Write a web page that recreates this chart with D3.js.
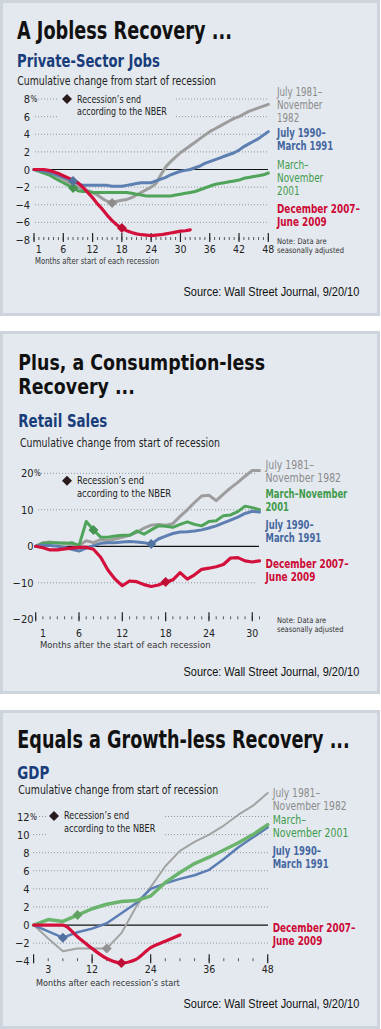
<!DOCTYPE html>
<html><head><meta charset="utf-8">
<script src="https://cdn.jsdelivr.net/npm/d3@7"></script>
<style>
body{margin:0;background:#fff;}
svg{display:block;}
</style></head>
<body><svg id="chart" width="381" height="1029"></svg>
<script>
// ================= DATA =================
// Panel 1: Private-sector jobs, cumulative % change, by month after recession start
const jobsMonths = [0,1,2,3,4,5,6,7,8,9,10,11,12,13,14,15,16,17,18,19,20,21,22,23,24,25,26,27,28,29,30,31,32,33,34,35,36,37,38,39,40,41,42,43,44,45,46,47,48];
const jobs1981 = [0,0,-0.1,-0.3,-0.5,-0.8,-1.1,-1.4,-1.7,-2.0,-2.2,-2.4,-2.6,-2.9,-3.3,-3.6,-3.8,-3.6,-3.5,-3.4,-3.2,-2.9,-2.6,-2.3,-2.0,-1.6,-0.6,0.3,0.9,1.4,1.9,2.3,2.7,3.1,3.5,3.9,4.3,4.6,4.9,5.2,5.5,5.8,6.0,6.3,6.6,6.8,7.0,7.2,7.4];
const jobs1990 = [0,-0.1,-0.2,-0.3,-0.5,-0.7,-0.9,-1.1,-1.3,-1.6,-1.8,-1.8,-1.8,-1.8,-1.8,-1.8,-1.9,-1.9,-1.9,-1.8,-1.7,-1.6,-1.5,-1.5,-1.5,-1.3,-1.1,-0.9,-0.6,-0.4,-0.2,-0.1,0.0,0.2,0.4,0.7,0.9,1.1,1.3,1.5,1.7,1.9,2.2,2.6,2.9,3.2,3.5,3.9,4.3];
const jobs2001 = [0,-0.2,-0.4,-0.6,-0.9,-1.2,-1.5,-1.8,-2.1,-2.4,-2.5,-2.5,-2.6,-2.6,-2.6,-2.6,-2.6,-2.6,-2.6,-2.6,-2.7,-2.8,-2.9,-3.0,-3.0,-3.0,-3.0,-3.0,-3.0,-2.9,-2.8,-2.7,-2.6,-2.5,-2.3,-2.1,-1.9,-1.7,-1.6,-1.5,-1.4,-1.3,-1.2,-1.0,-0.9,-0.8,-0.7,-0.6,-0.4];
const jobs2007 = [0,0,0,-0.1,-0.25,-0.45,-0.7,-0.95,-1.2,-1.5,-2.0,-2.6,-3.2,-3.9,-4.5,-5.2,-5.8,-6.3,-6.65,-6.95,-7.15,-7.3,-7.4,-7.45,-7.5,-7.45,-7.4,-7.3,-7.2,-7.1,-7.0,-6.95,-6.85];
const jobsRecessionEnd = [16, 8, 8, 18];          // months, order: 1981, 1990, 2001, 2007
const jobsYTicks = [-8,-6,-4,-2,0,2,4,6,8];
const jobsXTicks = [1,6,12,18,24,30,36,42,48];

// Panel 2: Retail sales
const retailMonths = [0,1,2,3,4,5,6,7,8,9,10,11,12,13,14,15,16,17,18,19,20,21,22,23,24,25,26,27,28,29,30,31];
const retail1981 = [0,1.0,1.2,0.8,1.0,0.5,0.2,1.5,1.0,1.8,1.5,2.0,2.5,3.0,3.8,5.0,5.8,6.0,5.8,6.2,8.2,10.0,12.0,13.8,14.0,12.5,14.3,16.0,17.5,19.2,20.8,20.8];
const retail1990 = [0,0.3,0.2,0.0,-0.3,-0.8,-1.3,-0.5,0.2,0.8,1.0,1.0,1.2,1.3,1.2,1.0,0.6,2.0,2.8,3.5,3.9,4.0,4.2,4.5,5.0,5.6,6.4,7.2,8.0,9.0,9.6,9.4];
const retail2001 = [0,0.8,1.0,1.0,0.8,1.0,0.2,6.8,4.5,2.5,2.5,2.8,3.0,3.0,4.2,3.3,4.5,5.6,5.5,5.2,6.0,6.7,6.0,5.6,6.8,7.0,8.4,8.6,9.5,11.0,10.6,10.0];
const retail2007 = [0,-0.4,-1.0,-1.0,-0.7,-0.5,-0.3,-0.3,-0.8,-3.0,-6.5,-9.0,-10.8,-9.5,-9.7,-10.5,-11.0,-10.6,-9.8,-9.2,-7.2,-9.0,-7.8,-6.3,-6.0,-5.6,-5.0,-3.2,-3.1,-4.0,-4.3,-4.0];
const retailRecessionEnd = [null, 16, 8, 18];
const retailYTicks = [-20,-10,0,10,20];
const retailXTicks = [1,6,12,18,24,30];

// Panel 3: GDP (quarterly)
const gdpMonths = [0,3,6,9,12,15,18,21,24,27,30,33,36,39,42,45,48];
const gdp1981 = [0,-1.5,-2.9,-2.6,-2.6,-2.6,-0.9,2.0,4.2,6.5,8.2,9.2,10.0,11.0,12.2,13.2,14.6];
const gdp1990 = [0,-0.7,-1.4,-0.8,-0.4,0.2,1.3,2.4,4.0,4.6,5.1,5.5,6.1,7.3,8.6,9.7,10.8];
const gdp2001 = [0,0.6,0.4,1.1,1.8,2.3,2.6,2.7,3.2,4.7,5.8,6.8,7.5,8.3,9.1,10.0,11.1];
const gdp2007 = [0,0.0,0.0,-1.3,-2.6,-3.7,-4.2,-3.8,-2.5,-1.8,-1.1];
const gdpRecessionEnd = [15, 6, 9, 18];
const gdpYTicks = [-4,-2,0,2,4,6,8,10,12];
const gdpXTicks = [3,12,24,36,48];

const seriesKeys = ["1981","1990","2001","2007"];
const legendLines = ["Recession\u2019s end","according to the NBER"];
const noteLines = ["Note: Data are","seasonally adjusted"];
const sourceText = "Source: Wall Street Journal, 9/20/10";

// ================= STYLE / LAYOUT =================
const FONT = "'Liberation Sans Narrow','Arial Narrow','DejaVu Sans Condensed','Liberation Sans',sans-serif";
const PANEL_FILL = "#e4e9ef", PANEL_STROKE = "#cdd4dc";
const lineColorA = {"1981":"#9d9d9d","1990":"#5d7fb2","2001":"#4fa45a","2007":"#d3103c"};
const lineColorB = {"1981":"#a3a3a3","1990":"#5b7db3","2001":"#6ab46d","2007":"#d3103c"};
const labelColor = {"1981":"#8b8b8b","1990":"#45679f","2001":"#3f9a4c","2007":"#cc0a36"};

const svg = d3.select("#chart");

// multi-line text block, horizontally scaled to the measured widths of the reference
function block(g, x, ys, lines, o = {}) {
  const t = g.append("text")
    .attr("font-family", o.family || FONT)
    .attr("font-size", o.size || 12)
    .attr("font-weight", o.weight || "normal")
    .attr("fill", o.fill || "#222")
    .attr("text-anchor", o.anchor || "start")
    .attr("transform", `translate(${x},0)`);
  const spans = lines.map((s,k) => t.append("tspan").attr("x",0).attr("y",ys[k]).text(s));
  if (o.w) {
    const sx = d3.mean(spans.map((sp,k) => o.w[k] / sp.node().getComputedTextLength()));
    t.attr("transform", `translate(${x},0) scale(${sx},1)`);
  }
  return t;
}
const diamond = r => `M0,${-r}L${r},0L0,${r}L${-r},0Z`;

// panel backgrounds
[[0,316],[331,694],[710,1029]].forEach(([a,b]) => {
  svg.append("rect").attr("x",1.5).attr("y",a+1.5).attr("width",377).attr("height",b-a-3)
    .attr("fill",PANEL_FILL).attr("stroke",PANEL_STROKE).attr("stroke-width",3);
});

function drawPanel(p) {
  const g = svg.append("g");
  const x = d3.scaleLinear().domain(p.xDomain).range(p.xRange);
  const y = d3.scaleLinear().domain(p.yDomain).range(p.yRange);
  const yBottom = y(p.yDomain[0]);
  const colors = p.colors;

  // titles
  block(g, p.tx, p.titles.map(t => t.y), p.titles.map(t => t.t), {size:p.titleSize, weight:"bold", fill:"#111", w:p.titles.map(t => t.w)});
  block(g, p.tx, [p.sub.y], [p.sub.t], {size:17, weight:"bold", fill:"#183d7a", w:[p.sub.w]});
  block(g, p.cum.x, [p.cum.y], ["Cumulative change from start of recession"], {size:12.5, fill:"#222", w:[p.cum.w]});

  // gridlines
  p.yTicks.filter(v => v !== 0 && v !== p.yDomain[0]).forEach(v => {
    g.append("line").attr("x1",p.gridX[0]).attr("x2",p.gridX[1]).attr("y1",y(v)).attr("y2",y(v))
      .attr("stroke","#8e979f").attr("stroke-width",1).attr("stroke-dasharray","1,2");
  });
  if (p.mask) g.append("rect").attr("x",p.mask.x).attr("y",p.mask.y).attr("width",p.mask.w).attr("height",p.mask.h).attr("fill",PANEL_FILL);

  // zero line
  g.append("line").attr("x1",p.zeroX[0]).attr("x2",p.zeroX[1]).attr("y1",y(0)).attr("y2",y(0))
    .attr("stroke","#111").attr("stroke-width",1.2);

  // y labels
  const top = d3.max(p.yTicks);
  p.yTicks.forEach(v => {
    g.append("text").attr("x",p.yLabelX).attr("y",y(v)+4).attr("text-anchor","end")
      .attr("font-family",FONT).attr("font-size",11).attr("fill","#222")
      .text(v < 0 ? "\u2212" + Math.abs(v) : String(v));
    if (v === top) g.append("text").attr("x",p.yLabelX+0.5).attr("y",y(v)+3)
      .attr("font-family",FONT).attr("font-size",8).attr("fill","#222").text("%");
  });

  // x ticks
  p.minor.forEach(m => g.append("line").attr("x1",x(m)).attr("x2",x(m)).attr("y1",yBottom-3).attr("y2",yBottom)
    .attr("stroke","#333").attr("stroke-width",0.8));
  p.major.forEach(m => g.append("line").attr("x1",x(m)).attr("x2",x(m)).attr("y1",yBottom-7).attr("y2",yBottom+2)
    .attr("stroke","#222").attr("stroke-width",1.2));
  p.xTicks.forEach(m => g.append("text").attr("x",x(m)).attr("y",p.xLabelY).attr("text-anchor","middle")
    .attr("font-family",FONT).attr("font-size",10.5).attr("fill","#222").text(String(m)));
  block(g, p.xTitle.x, [p.xTitle.y], [p.xTitle.t], {size:9.5, fill:"#333", w:[p.xTitle.w]});

  // series lines
  p.drawOrder.forEach(i => {
    const line = d3.line().x((d,j) => x(p.months[j])).y(d => y(d));
    if (p.curve && p.curve[i]) line.curve(d3.curveMonotoneX);
    g.append("path").attr("d", line(p.series[i])).attr("fill","none")
      .attr("stroke", colors[seriesKeys[i]]).attr("stroke-width", p.lw[i])
      .attr("stroke-linejoin","round").attr("stroke-linecap","round");
  });
  // recession-end markers
  p.drawOrder.forEach(i => {
    const m = p.ends[i];
    if (m === null || m === undefined) return;
    const j = p.months.indexOf(m);
    g.append("path").attr("d", diamond(5))
      .attr("transform", `translate(${x(m)},${y(p.series[i][j])})`)
      .attr("fill", d3.color(colors[seriesKeys[i]]).darker(0.3));
  });

  // legend
  g.append("path").attr("d", diamond(5)).attr("transform", `translate(${p.legend.x},${p.legend.y})`).attr("fill","#2a1c1c");
  block(g, p.legend.tx, p.legend.ty, legendLines, {size:11, fill:"#222", w:p.legend.w});

  // series labels
  p.labels.forEach((lab, i) => {
    block(g, p.labelX, lab.y, lab.lines,
      {size:11.4, weight: lab.bold ? "bold" : "normal", fill: labelColor[seriesKeys[i]], w: lab.w});
  });

  // note
  if (p.note) block(g, p.note.x, p.note.y, noteLines, {size:8, fill:"#333", w:p.note.w});

  // source
  block(g, 359.3, [p.sourceY], [sourceText], {family:"'Liberation Sans',Arial,sans-serif", size:12.5, fill:"#111", anchor:"end", w:[176]});
}

// ---------- Panel 1 ----------
drawPanel({
  months: jobsMonths, series:[jobs1981,jobs1990,jobs2001,jobs2007], ends: jobsRecessionEnd,
  colors: lineColorA, drawOrder:[0,2,1,3], lw:[3,3,3,3.2],
  xDomain:[0,48], xRange:[34,268.3], yDomain:[-8,8], yRange:[240,99],
  yTicks: jobsYTicks, yLabelX:30, gridX:[35,268], zeroX:[33,268],
  mask:{x:57,y:91,w:118,h:30},
  minor: jobsMonths, major:[0,6,12,18,24,30,36,42,48], xTicks: jobsXTicks, xLabelY:253,
  tx:17, titleSize:24, titles:[{t:"A Jobless Recovery ...", y:39, w:215}],
  sub:{t:"Private-Sector Jobs", y:67.5, w:143}, cum:{x:17.3, y:85.5, w:199},
  legend:{x:67, y:99, tx:77, ty:[103,115.5], w:[63,91.7]},
  labelX:277,
  labels:[
    {lines:["July 1981\u2013","November","1982"], y:[96.5,109.3,122.1], w:[43.3,48.3,21.7]},
    {lines:["July 1990\u2013","March 1991"], y:[137,150], w:[50.7,54], bold:true},
    {lines:["March\u2013","November","2001"], y:[169,182,195], w:[29.3,48.3,23.3]},
    {lines:["December 2007\u2013","June 2009"], y:[213,226], w:[82.6,50], bold:true}
  ],
  note:{x:277, y:[244.3,253], w:[50,66.7]},
  xTitle:{t:"Months after start of each recession", x:35, y:264, w:124.3},
  sourceY:296
});

// ---------- Panel 2 ----------
drawPanel({
  months: retailMonths, series:[retail1981,retail1990,retail2001,retail2007], ends: retailRecessionEnd,
  colors: lineColorA, drawOrder:[0,2,1,3], lw:[3,3,3,3.2],
  xDomain:[0,31], xRange:[35.7,259.5], yDomain:[-20,20], yRange:[619.3,473.3],
  yTicks: retailYTicks, yLabelX:33.5, gridX:[38,256], zeroX:[35,259],
  mask:null,
  minor: retailMonths, major:[0,6,12,18,24,30], xTicks: retailXTicks, xLabelY:637,
  tx:18.3, titleSize:21, titles:[{t:"Plus, a Consumption-less", y:370.5, w:253.4},{t:"Recovery ...", y:394, w:113.4}],
  sub:{t:"Retail Sales", y:427, w:89}, cum:{x:20, y:447.5, w:200},
  legend:{x:67, y:480.7, tx:77, ty:[484.5,497], w:[66.6,95]},
  labelX:265.5,
  labels:[
    {lines:["July 1981\u2013","November 1982"], y:[469,482], w:[49.3,74.3]},
    {lines:["July 1990\u2013","March 1991"], y:[529.5,542.5], w:[50.3,53.3], bold:true},
    {lines:["March\u2013November","2001"], y:[498.5,511.5], w:[84.3,22.6], bold:true},
    {lines:["December 2007\u2013","June 2009"], y:[568,581], w:[82.6,50.3], bold:true}
  ],
  note:{x:277, y:[623,632], w:[49.3,66.6]},
  xTitle:{t:"Months after the start of each recession", x:40, y:648, w:170.7},
  sourceY:676.5
});

// ---------- Panel 3 ----------
drawPanel({
  months: gdpMonths, series:[gdp1981,gdp1990,gdp2001,gdp2007], ends: gdpRecessionEnd,
  colors: lineColorB, drawOrder:[0,1,2,3], lw:[2,2.5,3.5,3.2], curve:[false,false,false,true],
  xDomain:[0,48], xRange:[33.6,267.7], yDomain:[-4,12], yRange:[961.2,816.5],
  yTicks: gdpYTicks, yLabelX:29.5, gridX:[33,268], zeroX:[33,268],
  mask:{x:47,y:808,w:118,h:31},
  minor: gdpMonths, major:[0,12,24,36,48], xTicks: gdpXTicks, xLabelY:973,
  tx:17.3, titleSize:24, titles:[{t:"Equals a Growth-less Recovery ...", y:748, w:332.7}],
  sub:{t:"GDP", y:779, w:32}, cum:{x:18.3, y:794.5, w:200},
  legend:{x:54, y:816, tx:64, ty:[819.5,832.2], w:[64.3,92.7]},
  labelX:272.7,
  labels:[
    {lines:["July 1981\u2013","November 1982"], y:[797.5,810.3], w:[47.3,74]},
    {lines:["July 1990\u2013","March 1991"], y:[855,868], w:[50,54], bold:true},
    {lines:["March\u2013","November 2001"], y:[824,837], w:[33.3,75.7]},
    {lines:["December 2007\u2013","June 2009"], y:[932.5,945.5], w:[82.3,50], bold:true}
  ],
  note:null,
  xTitle:{t:"Months after each recession\u2019s start", x:36, y:986.5, w:144},
  sourceY:1008
});
</script>
</body></html>
